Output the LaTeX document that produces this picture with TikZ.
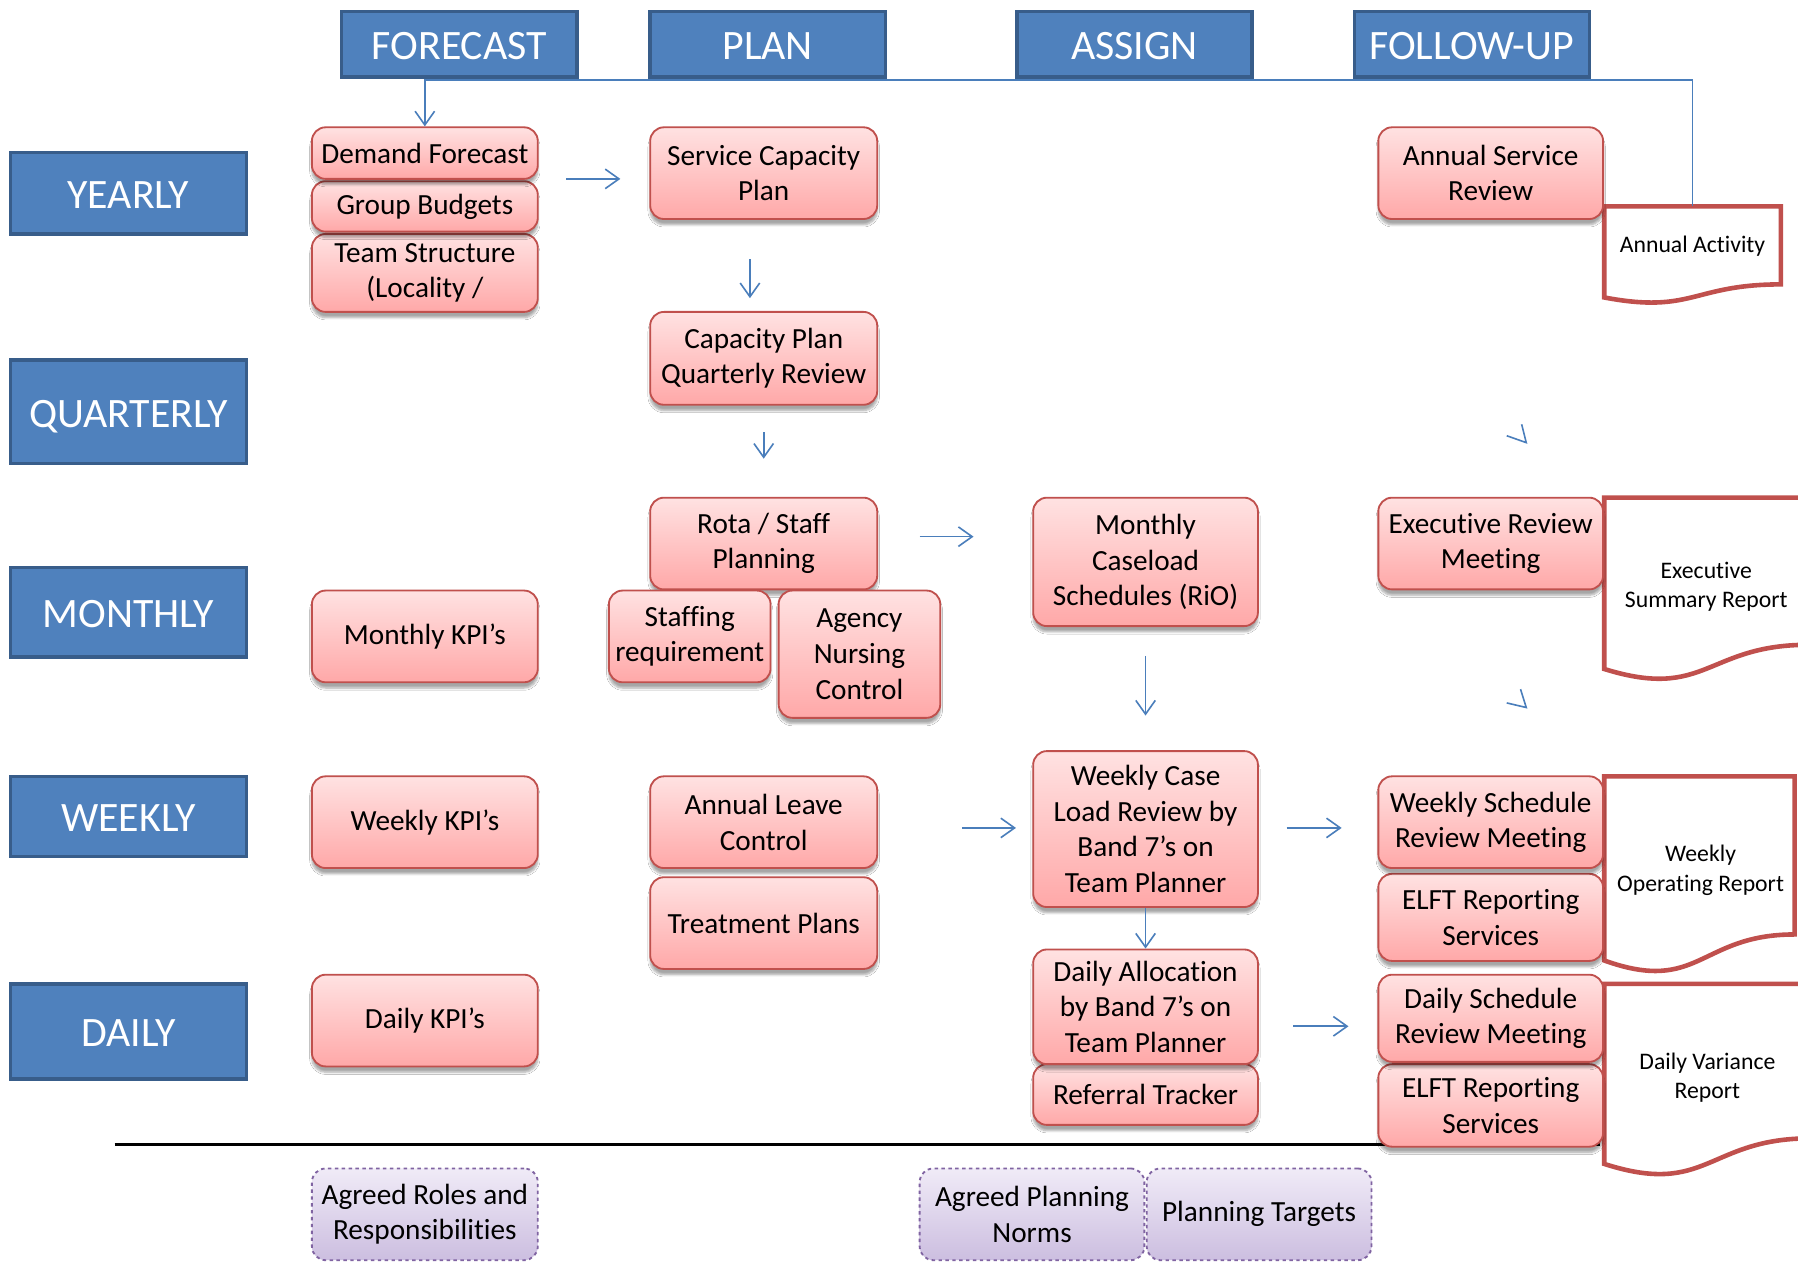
\documentclass[tikz,border=0pt]{standalone}
\usepackage{fontspec}
\setmainfont{Carlito}[RawFeature=-liga]
\usetikzlibrary{arrows.meta,shadows.blur}
\definecolor{hdrfill}{HTML}{4F81BD}
\definecolor{hdrline}{HTML}{385D8A}
\definecolor{pinkline}{HTML}{C0504D}
\definecolor{pinktop}{HTML}{FFE2E2}
\definecolor{pinkbot}{HTML}{FFA8A8}
\definecolor{purpline}{HTML}{8064A2}
\definecolor{purptop}{HTML}{F0EBF7}
\definecolor{purpbot}{HTML}{CCBEE0}
\definecolor{arrowblue}{HTML}{4A7EBB}
\tikzset{
  hdr/.style={draw=hdrline, line width=3pt, fill=hdrfill, text=white, inner sep=0pt,
    text height=27pt, text depth=0pt, font=\fontsize{36.5}{40}\selectfont},
  pbox/.style={draw=pinkline, line width=1.6pt, rounded corners=12pt, top color=pinktop,
    bottom color=pinkbot, inner sep=0pt, align=center, font=\fontsize{25.5}{31}\selectfont,
    blur shadow={shadow xshift=0pt, shadow yshift=-5pt, shadow blur steps=6, shadow opacity=35}},
  vbox/.style={draw=purpline, line width=1.6pt, dashed, rounded corners=12pt, top color=purptop,
    bottom color=purpbot, inner sep=0pt, align=center, font=\fontsize{25.5}{31}\selectfont},
  docline/.style={draw=pinkline, line width=4pt, fill=white, line join=miter},
  doctext/.style={align=center, inner sep=0pt, font=\fontsize{20.7}{25.5}\selectfont},
  blueline/.style={draw=arrowblue, line width=1.4pt},
  arr/.style={blueline, -{Straight Barb[length=12pt,width=17pt,line width=1.4pt]}},
}
\begin{document}
\begin{tikzpicture}[x=1pt,y=-1pt]
\useasboundingbox (0,0) rectangle (1568,1101);
\clip (0,0) rectangle (1568,1101);
\fill[white] (0,0) rectangle (1568,1101);

% separator line
\coordinate (sepL) at (100,998);
\coordinate (sepR) at (1395,998);
\draw[line width=2.5pt] (sepL) -- (sepR);

% headers
\node[hdr, minimum width=205pt, minimum height=57pt] (hF) at (400.5,38.5) {FORECAST};
\node[hdr, minimum width=205pt, minimum height=57pt] (hP) at (669.5,38.5) {PLAN};
\node[hdr, minimum width=205pt, minimum height=57pt] (hA) at (989.5,38.5) {ASSIGN};
\node[hdr, minimum width=205pt, minimum height=57pt] (hU) at (1283.5,38.5) {FOLLOW-UP};

% row labels
\node[hdr, minimum width=206pt, minimum height=71pt] (rY) at (112,168.5) {YEARLY};
\node[hdr, minimum width=206pt, minimum height=90pt] (rQ) at (112,359) {QUARTERLY};
\node[hdr, minimum width=206pt, minimum height=78pt] (rM) at (112,534) {MONTHLY};
\node[hdr, minimum width=206pt, minimum height=70pt] (rW) at (112,712) {WEEKLY};
\node[hdr, minimum width=206pt, minimum height=83pt] (rD) at (112,899.5) {DAILY};

% documents
\draw[docline] (1399,180) -- (1553,180) -- (1553,248) .. controls (1476,248) and (1476,274) .. (1399,259.4) -- cycle;
\coordinate (aaTop) at (1476,180);
\node[doctext] (aa) at (1476,215) {Annual Activity};

\draw[docline] (1399,434) -- (1577,434) -- (1577,562.3) .. controls (1488,562.3) and (1488,611.1) .. (1399,583.4) -- cycle;
\node[doctext] (esr) at (1488,512) {Executive\\Summary Report};

\draw[docline] (1399,677) -- (1565,677) -- (1565,814.9) .. controls (1482,814.9) and (1482,867.4) .. (1399,837.6) -- cycle;
\node[doctext] (wor) at (1483,759) {Weekly\\Operating Report};

\draw[docline] (1399,858) -- (1579,858) -- (1579,992.7) .. controls (1489,992.7) and (1489,1044) .. (1399,1015) -- cycle;
\node[doctext] (dvr) at (1489,940) {Daily Variance\\Report};

% forecast column
\node[pbox, minimum width=197pt, minimum height=68pt] (team) at (370.5,238) {Team Structure\\(Locality /};
\node[pbox, minimum width=197pt, minimum height=44pt] (grp) at (370.5,180) {Group Budgets};
\node[pbox, minimum width=197pt, minimum height=45pt] (dem) at (370.5,133.5) {Demand Forecast};
\node[pbox, minimum width=197pt, minimum height=80pt] (mkpi) at (370.5,555) {Monthly KPI’s};
\node[pbox, minimum width=197pt, minimum height=80pt] (wkpi) at (370.5,717) {Weekly KPI’s};
\node[pbox, minimum width=197pt, minimum height=80pt] (dkpi) at (370.5,890) {Daily KPI’s};

% plan column
\node[pbox, minimum width=198pt, minimum height=80pt] (scp) at (666,151) {Service Capacity\\Plan};
\node[pbox, minimum width=198pt, minimum height=81pt] (cpq) at (666,312.5) {Capacity Plan\\Quarterly Review};
\node[pbox, minimum width=198pt, minimum height=80pt] (rota) at (666,474) {Rota / Staff\\Planning};
\node[pbox, minimum width=141pt, minimum height=80pt] (staff) at (601.5,555) {Staffing\\requirement};
\node[pbox, minimum width=141pt, minimum height=111pt] (agency) at (749.5,570.5) {Agency\\Nursing\\Control};
\node[pbox, minimum width=198pt, minimum height=80pt] (alc) at (666,717) {Annual Leave\\Control};
\node[pbox, minimum width=198pt, minimum height=80pt] (treat) at (666,805) {Treatment Plans};

% assign column
\node[pbox, minimum width=196pt, minimum height=112pt] (mcs) at (999,490) {Monthly\\Caseload\\Schedules (RiO)};
\node[pbox, minimum width=196pt, minimum height=136pt] (wcl) at (999,723) {Weekly Case\\Load Review by\\Band 7’s on\\Team Planner};
\node[pbox, minimum width=196pt, minimum height=53pt] (ref) at (999,954.5) {Referral Tracker};
\node[pbox, minimum width=196pt, minimum height=100pt] (dab) at (999,878) {Daily Allocation\\by Band 7’s on\\Team Planner};

% follow-up column
\node[pbox, minimum width=196pt, minimum height=80pt] (asr) at (1300,151) {Annual Service\\Review};
\node[pbox, minimum width=196pt, minimum height=80pt] (erm) at (1300,474) {Executive Review\\Meeting};
\node[pbox, minimum width=196pt, minimum height=76pt] (elft1) at (1300,800) {ELFT Reporting\\Services};
\node[pbox, minimum width=196pt, minimum height=80pt] (wsr) at (1300,717) {Weekly Schedule\\Review Meeting};
\node[pbox, minimum width=196pt, minimum height=72pt] (elft2) at (1300,964) {ELFT Reporting\\Services};
\node[pbox, minimum width=196pt, minimum height=76pt] (dsr) at (1300,888) {Daily Schedule\\Review Meeting};

% purple boxes
\node[vbox, minimum width=197pt, minimum height=80pt] (roles) at (370.5,1059) {Agreed Roles and\\Responsibilities};
\node[vbox, minimum width=196pt, minimum height=80pt] (apn) at (900,1059) {Agreed Planning\\Norms};
\node[vbox, minimum width=196pt, minimum height=80pt] (ptg) at (1098,1059) {Planning Targets};

% feedback loop
\draw[arr] (aaTop) -- (1476,70) -- (370.5,70) -- (dem.north);

% arrows
\draw[arr] (494,156) -- (541,156);
\draw[arr] (654,226) -- (654,260);
\draw[arr] (666,377) -- (666,400);
\draw[arr] (802,468) -- (849,468);
\draw[arr] (999,572) -- (999,624);
\draw[arr] (839,722) -- (886,722);
\draw[arr] (1122,722) -- (1170,722);
\draw[arr] (wcl.south) -- (dab.north);
\draw[arr] (1128,895) -- (1176,895);

% stray arrow heads
\draw[blueline] (1314,380) -- (1331,386) -- (1327,370);
\draw[blueline] (1314,613) -- (1331,617) -- (1326,601);
\end{tikzpicture}
\end{document}
